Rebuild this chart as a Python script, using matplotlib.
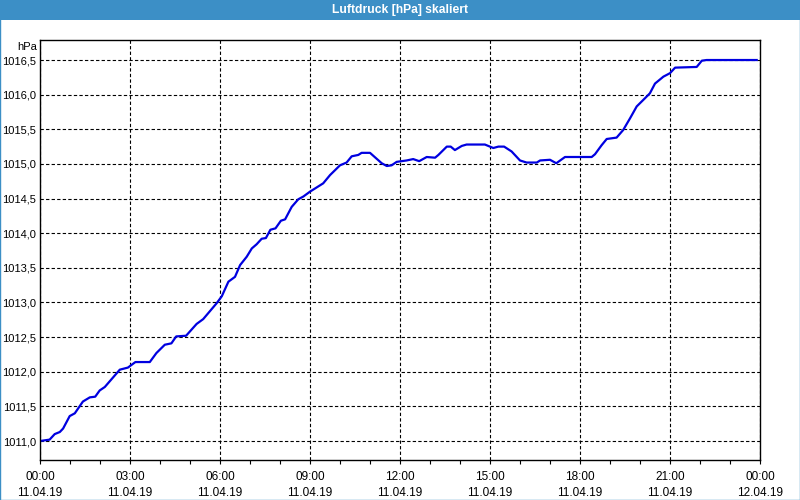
import matplotlib
matplotlib.use("Agg")
import matplotlib.pyplot as plt
from matplotlib.patches import Rectangle
import numpy as np

plt.rcParams["font.family"] = ["Liberation Sans", "DejaVu Sans"]

title = "Luftdruck [hPa] skaliert"
unit_label = "hPa"

hours = [0.00, 0.32, 0.49, 0.66, 0.77, 0.99, 1.16, 1.43, 1.66, 1.84, 1.99, 2.16, 2.66, 2.93,
         3.18, 3.66, 3.88, 4.16, 4.38, 4.54, 4.87, 5.22, 5.44, 5.89, 6.06, 6.28, 6.50, 6.67,
         6.89, 7.06, 7.22, 7.39, 7.53, 7.68, 7.85, 8.03, 8.17, 8.39, 8.61, 8.78, 9.00, 9.22,
         9.44, 9.67, 10.00, 10.22, 10.39, 10.61, 10.72, 11.00, 11.39, 11.56, 11.72, 11.89,
         12.22, 12.44, 12.64, 12.89, 13.17, 13.28, 13.56, 13.69, 13.83, 14.06, 14.22, 14.83,
         15.11, 15.28, 15.47, 15.72, 16.00, 16.22, 16.56, 16.67, 17.00, 17.21, 17.50, 18.39,
         18.50, 18.72, 18.89, 19.22, 19.44, 19.67, 19.89, 20.17, 20.33, 20.50, 20.78, 21.00,
         21.17, 21.89, 22.06, 22.22, 23.89]
pressure = [1011.00, 1011.02, 1011.10, 1011.13, 1011.18, 1011.36, 1011.40, 1011.57, 1011.63,
            1011.64, 1011.73, 1011.78, 1012.03, 1012.06, 1012.14, 1012.14, 1012.27, 1012.39,
            1012.41, 1012.51, 1012.52, 1012.69, 1012.76, 1012.99, 1013.09, 1013.30, 1013.37,
            1013.54, 1013.66, 1013.78, 1013.84, 1013.92, 1013.93, 1014.05, 1014.07, 1014.18,
            1014.20, 1014.38, 1014.49, 1014.53, 1014.60, 1014.66, 1014.72, 1014.84, 1014.98,
            1015.02, 1015.11, 1015.13, 1015.16, 1015.16, 1015.01, 1014.97, 1014.98, 1015.03,
            1015.05, 1015.07, 1015.04, 1015.10, 1015.09, 1015.13, 1015.25, 1015.25, 1015.20,
            1015.26, 1015.28, 1015.28, 1015.23, 1015.25, 1015.25, 1015.18, 1015.05, 1015.02,
            1015.02, 1015.05, 1015.06, 1015.01, 1015.10, 1015.10, 1015.14, 1015.27, 1015.36,
            1015.38, 1015.49, 1015.66, 1015.83, 1015.95, 1016.02, 1016.16, 1016.26, 1016.31,
            1016.39, 1016.40, 1016.49, 1016.50, 1016.50]

x_tick_hours = [0, 3, 6, 9, 12, 15, 18, 21, 24]
x_tick_labels = ["00:00\n11.04.19", "03:00\n11.04.19", "06:00\n11.04.19", "09:00\n11.04.19",
                 "12:00\n11.04.19", "15:00\n11.04.19", "18:00\n11.04.19", "21:00\n11.04.19",
                 "00:00\n12.04.19"]
y_ticks = [1011.0, 1011.5, 1012.0, 1012.5, 1013.0, 1013.5, 1014.0, 1014.5, 1015.0, 1015.5,
           1016.0, 1016.5]

fig = plt.figure(figsize=(8, 5), dpi=100)
fig.patch.set_facecolor("white")

# title bar and frame
fig.add_artist(Rectangle((0, 0.96), 1, 0.04, transform=fig.transFigure,
                         facecolor="#3c8fc6", edgecolor="none"))
fig.add_artist(Rectangle((0.0006, 0.001), 0.9988, 0.998, transform=fig.transFigure,
                         facecolor="none", edgecolor="#3c8fc6", linewidth=1))
fig.text(0.5, 0.980, title, color="white", fontsize=8.7, fontweight="bold",
         ha="center", va="center")

ax = fig.add_axes([0.05, 0.08, 0.90, 0.84])
ax.plot(hours, pressure, color="#0000e0", linewidth=1.6)

ax.set_xlim(0, 24)
ax.set_ylim(1010.726, 1016.789)
ax.set_xticks(x_tick_hours)
ax.set_xticklabels(x_tick_labels, fontsize=8.5, linespacing=1.45)
ax.set_xticks(np.arange(0, 25, 1), minor=True)
ax.set_yticks(y_ticks)
ax.set_yticklabels([f"{v:.1f}".replace(".", ",") for v in y_ticks], fontsize=8)
ax.tick_params(axis="x", which="both", length=3, width=0.8, direction="out", pad=5)
ax.tick_params(axis="y", length=0, pad=3)
ax.grid(True, which="major", color="black", linestyle=(0, (3, 2)), linewidth=0.8)
for s in ax.spines.values():
    s.set_color("black")
    s.set_linewidth(1)

ax.text(-0.004, 1016.62, unit_label, transform=ax.get_yaxis_transform(),
        ha="right", va="bottom", fontsize=8)

fig.savefig("out.png", dpi=100)
